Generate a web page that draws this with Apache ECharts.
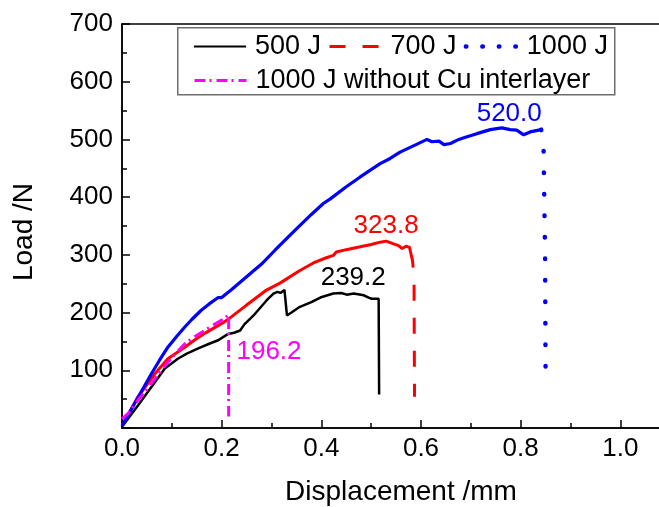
<!DOCTYPE html>
<html><head><meta charset="utf-8">
<script src="https://cdn.jsdelivr.net/npm/echarts@6/dist/echarts.min.js"></script>
<style>html,body{margin:0;padding:0;background:#fff}#c{width:659px;height:507px}</style>
</head><body><div id="c"></div>
<script>
// ---------- data ----------
const seriesNames = ['500 J', '700 J', '1000 J', '1000 J without Cu interlayer'];

const j500X = [0, 0.032, 0.059, 0.086, 0.112, 0.13, 0.153, 0.175, 0.193, 0.213, 0.225, 0.237, 0.246, 0.264, 0.29, 0.304, 0.312, 0.318, 0.326, 0.329, 0.331, 0.34, 0.357, 0.38, 0.398, 0.424, 0.44, 0.451, 0.465, 0.485, 0.495, 0.501, 0.515, 0.516];
const j500Y = [2, 39, 71, 103, 120, 129, 138, 146, 152, 163, 165, 169, 180, 195, 221, 233, 236, 234, 239.2, 238, 195, 200, 210, 218, 226, 233, 234, 231, 233, 230, 226, 224, 224, 58];

const j700CurveX = [0, 0.032, 0.066, 0.092, 0.126, 0.145, 0.166, 0.19, 0.206, 0.22, 0.25, 0.29, 0.317, 0.357, 0.384, 0.41, 0.424, 0.43, 0.45, 0.478, 0.5, 0.518, 0.53, 0.545, 0.555, 0.562, 0.57, 0.577, 0.579];
const j700CurveY = [4, 54, 94, 120, 140, 152, 164, 176, 184, 193, 213, 239, 251, 273, 286, 295, 299, 305, 309, 314, 318, 322, 323.8, 319, 316, 311, 315, 313, 305];
const j700DropX = [0.579, 0.583, 0.586, 0.587];
const j700DropY = [305, 290, 260, 54];

const j1000CurveX = [0, 0.025, 0.059, 0.075, 0.092, 0.11, 0.126, 0.14, 0.159, 0.175, 0.193, 0.2, 0.22, 0.25, 0.28, 0.307, 0.35, 0.38, 0.404, 0.418, 0.45, 0.478, 0.518, 0.538, 0.558, 0.59, 0.612, 0.622, 0.636, 0.646, 0.659, 0.676, 0.686, 0.712, 0.739, 0.762, 0.779, 0.792, 0.806, 0.819, 0.841];
const j1000CurveY = [3, 42, 94, 117, 140, 159, 175, 188, 204, 215, 226, 226, 240, 262, 284, 308, 345, 370, 389, 397, 418, 435, 458, 467, 478, 491, 500, 496, 497, 491, 493, 500, 503, 510, 517, 520, 517, 516, 508, 513, 517];
const j1000DropX = [0.841, 0.844, 0.846, 0.849, 0.85];
const j1000DropY = [517, 505, 480, 300, 95];

const noCuX = [0, 0.012, 0.032, 0.059, 0.075, 0.092, 0.11, 0.126, 0.145, 0.166, 0.19, 0.206, 0.214, 0.214];
const noCuY = [16, 25, 48, 77, 96, 114, 131, 146, 158, 169, 182, 190, 196.2, 20];

// peak-value annotations (text and the data-space point where each is centred)
const annotText = ['239.2', '323.8', '520.0', '196.2'];
const annotX = [0.464, 0.530, 0.777, 0.295];
const annotY = [259.4, 349.5, 543.6, 131.2];

// ---------- chart ----------
const FONT = 'Liberation Sans, Arial, sans-serif';
const COLORS = ['#000000', '#ff0000', '#0000ff', '#ff00ff'];
function pts(xs, ys) { return xs.map((x, i) => [x, ys[i]]); }
function annot(i, color) {
  return {
    symbol: 'circle', symbolSize: 0, silent: true,
    itemStyle: { color: 'transparent' },
    label: { show: true, position: 'inside', formatter: annotText[i], color: color, fontSize: 26, fontFamily: FONT },
    data: [{ coord: [annotX[i], annotY[i]] }]
  };
}
function line(name, data, color, width, type, extra) {
  return Object.assign({
    type: 'line', name: name, data: data, showSymbol: false, symbol: 'none',
    animation: false, silent: true, clip: true,
    lineStyle: { color: color, width: width, type: type, cap: 'butt' },
    itemStyle: { color: color }
  }, extra || {});
}

const series = [
  line(seriesNames[0], pts(j500X, j500Y), COLORS[0], 2.5, 'solid', { markPoint: annot(0, COLORS[0]) }),
  // dashed drop first so the legend icon takes its style
  line(seriesNames[1], pts(j700DropX, j700DropY), COLORS[1], 3, [16, 17]),
  line(seriesNames[1], pts(j700CurveX, j700CurveY), COLORS[1], 3, 'solid', { markPoint: annot(1, COLORS[1]) }),
  line(seriesNames[2], pts(j1000DropX, j1000DropY), COLORS[2], 4.5, [0.5, 21]),
  line(seriesNames[2], pts(j1000CurveX, j1000CurveY), COLORS[2], 3.2, 'solid', { markPoint: annot(2, COLORS[2]) }),
  line(seriesNames[3], pts(noCuX, noCuY), COLORS[3], 3, [11, 4, 2, 5], { markPoint: annot(3, COLORS[3]) })
];
series[3].lineStyle.cap = 'round';

const legendBase = {
  orient: 'horizontal', padding: 0, itemWidth: 52, itemHeight: 14, itemGap: 7,
  selectedMode: false,
  itemStyle: { opacity: 0 },
  textStyle: { fontSize: 27, fontFamily: FONT, color: '#000', padding: [0, 0, 0, 4] }
};

const option = {
  backgroundColor: '#fff',
  animation: false,
  grid: { left: 122, top: 24, bottom: 79, right: -61, containLabel: false, outerBoundsMode: 'none',
          show: true, borderColor: '#000', borderWidth: 1.5, backgroundColor: 'transparent' },
  legend: [
    Object.assign({}, legendBase, { left: 193, top: 33, data: [
      { name: seriesNames[0] },
      { name: seriesNames[1], lineStyle: { type: [16, 17], width: 3 } },
      { name: seriesNames[2], lineStyle: { type: [0.5, 16], width: 4.5, cap: 'round' } }
    ] }),
    Object.assign({}, legendBase, { left: 193, top: 67, data: [
      { name: seriesNames[3], lineStyle: { type: [11, 4, 2, 5], width: 3 } }
    ] })
  ],
  graphic: [{
    type: 'rect', left: 177, top: 27, silent: true, z: 0,
    shape: { width: 437, height: 67 },
    style: { fill: 'transparent', stroke: '#6e6e6e', lineWidth: 1.5 }
  }],
  xAxis: {
    type: 'value', min: 0, max: 1.2, interval: 0.2,
    name: 'Displacement /mm', nameLocation: 'middle', nameGap: 50,
    nameTextStyle: { fontSize: 28, fontFamily: FONT, color: '#000', padding: [0, 40, 0, 0] },
    axisLine: { show: true, lineStyle: { color: '#000', width: 1.5 } },
    axisTick: { show: true, inside: true, length: 8, lineStyle: { color: '#000', width: 1.5 } },
    minorTick: { show: true, splitNumber: 2, length: 5, lineStyle: { color: '#000', width: 1.5 } },
    axisLabel: { fontSize: 26, fontFamily: FONT, color: '#000', margin: 8, formatter: v => v.toFixed(1) },
    splitLine: { show: false }, minorSplitLine: { show: false }
  },
  yAxis: {
    type: 'value', min: 0, max: 700, interval: 100,
    name: 'Load /N', nameLocation: 'middle', nameGap: 84, nameRotate: 90,
    nameTextStyle: { fontSize: 28, fontFamily: FONT, color: '#000', padding: [0, 12, 0, 0] },
    axisLine: { show: true, lineStyle: { color: '#000', width: 1.5 } },
    axisTick: { show: true, inside: true, length: 8, lineStyle: { color: '#000', width: 1.5 } },
    minorTick: { show: true, splitNumber: 2, length: 5, lineStyle: { color: '#000', width: 1.5 } },
    axisLabel: { fontSize: 26, fontFamily: FONT, color: '#000', margin: 9, showMinLabel: false },
    splitLine: { show: false }, minorSplitLine: { show: false }
  },
  series: series
};

const chart = echarts.init(document.getElementById('c'), null, { renderer: 'canvas' });
chart.setOption(option);
</script>
</body></html>
